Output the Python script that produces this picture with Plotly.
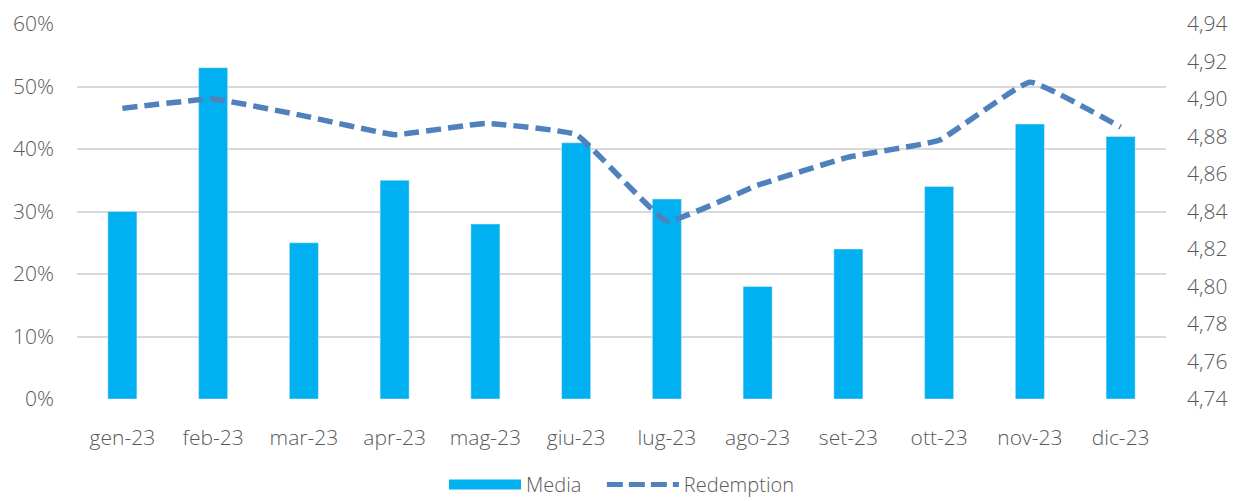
import plotly.graph_objects as go

months = ["gen-23", "feb-23", "mar-23", "apr-23", "mag-23", "giu-23",
          "lug-23", "ago-23", "set-23", "ott-23", "nov-23", "dic-23"]
media = [0.30, 0.53, 0.25, 0.35, 0.28, 0.41, 0.32, 0.18, 0.24, 0.34, 0.44, 0.42]
redemption = [4.895, 4.900, 4.891, 4.881, 4.887, 4.881, 4.835, 4.854, 4.869, 4.878, 4.909, 4.885]

left_ticks = [0, 0.1, 0.2, 0.3, 0.4, 0.5, 0.6]
left_labels = ["0%", "10%", "20%", "30%", "40%", "50%", "60%"]
right_ticks = [4.74, 4.76, 4.78, 4.80, 4.82, 4.84, 4.86, 4.88, 4.90, 4.92, 4.94]
right_labels = [f"{v:.2f}".replace(".", ",") for v in right_ticks]

font_fam = "Open Sans"
txt_col = "#595959"
bar_col = "#00B0F0"
line_col = "#4F81BD"
fs = 21

fig = go.Figure()
fig.add_trace(go.Bar(x=months, y=media, name="Media", marker_color=bar_col,
                     width=0.32, yaxis="y", showlegend=False))
fig.add_trace(go.Scatter(x=months, y=redemption, name="Redemption", yaxis="y2",
                         mode="lines", showlegend=False,
                         line=dict(color=line_col, width=5.5, dash="15px,7px",
                                   shape="spline", smoothing=0.3)))
# legend entries
fig.add_trace(go.Scatter(x=[None], y=[None], name="Media\u00a0\u00a0\u00a0", mode="lines",
                         line=dict(color=bar_col, width=14)))
fig.add_trace(go.Scatter(x=[None], y=[None], name="Redemption", mode="lines",
                         yaxis="y2",
                         line=dict(color=line_col, width=5, dash="16px,6px")))

fig.update_layout(
    width=1230, height=493,
    margin=dict(l=69, r=72, t=16, b=102, autoexpand=False),
    paper_bgcolor="white", plot_bgcolor="white",
    font=dict(family=font_fam, size=fs, color=txt_col, weight=300),
    showlegend=True,
    legend=dict(orientation="h", x=0.5, xanchor="center", y=-0.228, yanchor="middle",
                font=dict(size=20, color=txt_col, family=font_fam, weight=300),
                itemwidth=72, traceorder="normal"),
    xaxis=dict(showgrid=False, showline=False, ticks="", ticklabelstandoff=24,
               automargin=False, tickfont=dict(size=fs, color=txt_col)),
    yaxis=dict(range=[0, 0.6], tickvals=left_ticks, ticktext=left_labels,
               showgrid=True, gridcolor="#D9D9D9", gridwidth=1.5,
               zeroline=False, showline=False, ticklabelstandoff=22,
               automargin=False, tickfont=dict(size=fs, color=txt_col)),
    yaxis2=dict(range=[4.74, 4.94], tickvals=right_ticks, ticktext=right_labels,
                overlaying="y", side="right", showgrid=False, zeroline=False,
                showline=False, ticklabelstandoff=20, automargin=False,
                tickfont=dict(size=fs, color=txt_col)),
)

fig.write_html("out.html")
